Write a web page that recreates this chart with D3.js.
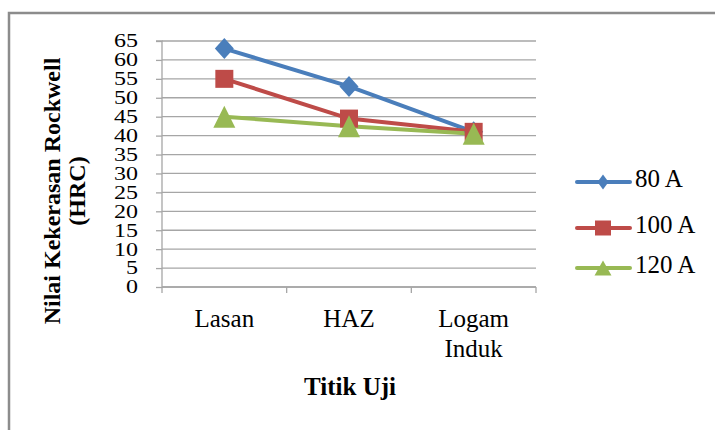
<!DOCTYPE html>
<html><head><meta charset="utf-8">
<script src="https://cdn.jsdelivr.net/npm/d3@7"></script>
<style>body{margin:0;background:#fff}svg{display:block}</style>
</head><body><svg id="c" width="715" height="430"></svg>
<script>
const categories = [["Lasan"], ["HAZ"], ["Logam", "Induk"]];
const seriesNames = ["80 A", "100 A", "120 A"];
const values80 = [63, 53, 41];
const values100 = [55, 44.5, 41];
const values120 = [45, 42.5, 40.5];
const yTicks = [0,5,10,15,20,25,30,35,40,45,50,55,60,65];
const colors = ["#4a7ebb", "#be4b48", "#98b954"];
const FONT = "'Liberation Serif', Tinos, 'Times New Roman', serif";

// marker shapes (w = width, h = height)
function marker(type, w, h) {
  const a = w/2, b = h/2;
  if (type === 0) return `M0,${-b}L${a},0L0,${b}L${-a},0Z`;
  if (type === 1) return `M${-a},${-b}H${a}V${b}H${-a}Z`;
  return `M0,${-b}L${a},${b}H${-a}Z`;
}
const plotMarkers = [[19,21],[18,18],[22,22]];
const legMarkers = [[11,15],[16,15],[17,15]];

const svg = d3.select("#c").style("font-family", FONT);
svg.append("path").attr("d","M9,430 V13 H715").attr("fill","none").attr("stroke","#8c8c8c").attr("stroke-width",2.5);

const x0 = 162, x1 = 536, yTop = 41, yBot = 287;
const x = d3.scaleBand().domain(d3.range(categories.length)).range([x0, x1]);
const y = d3.scaleLinear().domain([0, 65]).range([yBot, yTop]);

svg.append("g").selectAll("line").data(yTicks).join("line")
  .attr("x1", x0).attr("x2", x1).attr("y1", d => y(d)).attr("y2", d => y(d))
  .attr("stroke", "#a6a6a6").attr("stroke-width", 1.3);

const yAxis = svg.append("g").attr("transform", `translate(${x0},0)`)
  .call(d3.axisLeft(y).tickValues(yTicks).tickSize(6).tickPadding(18));
yAxis.attr("font-family", null);
yAxis.select(".domain").attr("stroke", "#a6a6a6").attr("stroke-width", 1.3).attr("d", `M-6,${yTop}H0V${yBot}`);
yAxis.selectAll(".tick line").attr("stroke", "#a6a6a6").attr("stroke-width", 1.3);
yAxis.selectAll(".tick text").attr("font-size", 18.5).style("font-family", FONT).attr("fill","#000")
  .attr("textLength", d => String(d).length * 12).attr("lengthAdjust", "spacingAndGlyphs");

const xAxisG = svg.append("g").attr("transform", `translate(0,${yBot})`);
xAxisG.append("line").attr("x1", x0).attr("x2", x1).attr("stroke", "#a6a6a6").attr("stroke-width", 1.3);
const xTickPos = d3.range(categories.length + 1).map(i => i < categories.length ? x(i) : x1);
xAxisG.selectAll("line.t").data(xTickPos).join("line").attr("class","t")
  .attr("x1", d => d).attr("x2", d => d).attr("y1", 0).attr("y2", 6)
  .attr("stroke", "#a6a6a6").attr("stroke-width", 1.3);
const xl = xAxisG.selectAll("text.cat").data(categories).join("text").attr("class","cat")
  .attr("text-anchor","middle").attr("font-size", 25).style("font-family", FONT)
  .attr("x", (d,i) => x(i) + x.bandwidth()/2);
xl.selectAll("tspan").data(d => d).join("tspan")
  .attr("x", function(){ return d3.select(this.parentNode).attr("x"); })
  .attr("y", (d,i) => 40 + i*30).text(d => d);

const allSeries = [values80, values100, values120];
const line = d3.line().x((d,i) => x(i) + x.bandwidth()/2).y(d => y(d));
allSeries.forEach((vals, s) => {
  svg.append("path").datum(vals).attr("d", line).attr("fill","none")
    .attr("stroke", colors[s]).attr("stroke-width", 4).attr("stroke-linejoin","round");
});
allSeries.forEach((vals, s) => {
  svg.append("g").selectAll("path").data(vals).join("path")
    .attr("d", marker(s, plotMarkers[s][0], plotMarkers[s][1]))
    .attr("transform", (d,i) => `translate(${x(i) + x.bandwidth()/2},${y(d)})`)
    .attr("fill", colors[s]);
});

svg.append("text").attr("text-anchor","middle").attr("font-size",25).attr("font-weight","bold").style("font-family", FONT)
  .attr("x", 350).attr("y", 395).text("Titik Uji");
const yt = svg.append("text").attr("text-anchor","middle").attr("font-size",24).attr("font-weight","bold").style("font-family", FONT)
  .attr("transform","translate(0,191) rotate(-90)");
yt.append("tspan").attr("x",0).attr("y",60).text("Nilai  Kekerasan Rockwell");
yt.append("tspan").attr("x",0).attr("y",85).text("(HRC)");

const lg = svg.append("g");
const legY = [182, 228, 268];
seriesNames.forEach((n, s) => {
  lg.append("line").attr("x1",577).attr("x2",630).attr("y1",legY[s]).attr("y2",legY[s])
    .attr("stroke",colors[s]).attr("stroke-width",4).attr("stroke-linecap","round");
  lg.append("path").attr("d", marker(s, legMarkers[s][0], legMarkers[s][1]))
    .attr("transform",`translate(603,${legY[s]})`).attr("fill",colors[s]);
  lg.append("text").attr("x",635).attr("y",legY[s]+5).attr("font-size",25).style("font-family", FONT).text(n);
});
</script></body></html>
